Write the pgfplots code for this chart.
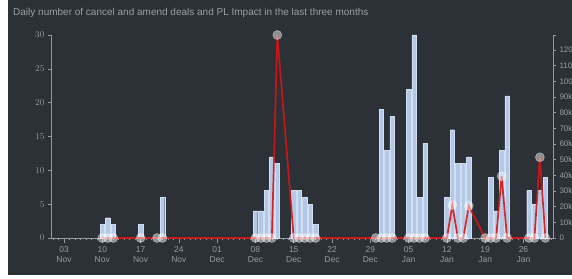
\documentclass[border=0pt]{standalone}
\usepackage{pgfplots}
\usepackage{pgfplotstable}
\pgfplotsset{compat=1.18}
\usepackage{fontspec}
\setmainfont{Liberation Sans}
\definecolor{bg}{RGB}{44,48,55}
\definecolor{axgray}{RGB}{150,153,158}
\definecolor{txtgray}{RGB}{150,155,162}
\definecolor{titlegray}{RGB}{155,160,166}
\definecolor{barblue}{RGB}{178,200,230}
\definecolor{linered}{RGB}{215,20,20}

\pgfplotstableread{
d v
7 2
8 3
9 2
14 2
17 0
18 6
35 4
36 4
37 7
38 12
39 11
42 7
43 7
44 6
45 5
46 2
57 0
58 19
59 13
60 18
63 22
64 30
65 6
66 14
70 6
71 16
72 11
73 11
74 12
77 0
78 9
79 4
80 13
81 21
85 7
86 5
87 7
88 9
}\bars

\pgfplotstableread{
d pl
7 0
8 0
9 0
14 0
17 0
18 0
35 0
36 0
37 0
38 0
39 129500
42 0
43 0
44 0
45 0
46 0
57 0
58 0
59 0
60 0
63 0
64 0
65 0
66 0
70 0
71 21000
72 0
73 0
74 20500
77 0
78 0
79 0
80 39500
81 0
85 0
86 0
87 51500
88 0
}\pl

\begin{document}
\begin{tikzpicture}[x=1pt,y=1pt]
\fill[white] (0,0) rectangle (572,278);
\fill[bg] (8,3) rectangle (572,278);
\node[anchor=west, font=\fontsize{10}{12}\selectfont, text=titlegray, inner sep=0pt] at (13,265.5) {Daily number of cancel and amend deals and PL Impact in the last three months};
\pgfplotsset{
  base/.style={
    scale only axis, width=502pt, height=203pt,
    at={(51pt,40pt)}, anchor=south west,
    xmin=-2.38, xmax=89.4,
    axis line style={axgray, line width=0.8pt},
    tick style={axgray, line width=0.6pt},
    tick align=outside,
    ticklabel style={font=\fontsize{8.5}{10}\selectfont, text=txtgray},
    clip=false,
  }
}
% x axis
\begin{axis}[base, axis x line*=bottom, axis y line=none, ymin=0, ymax=30,
  xtick={0,7,...,84},
  xticklabels={{03\\Nov},{10\\Nov},{17\\Nov},{24\\Nov},{01\\Dec},{08\\Dec},{15\\Dec},{22\\Dec},{29\\Dec},{05\\Jan},{12\\Jan},{19\\Jan},{26\\Jan}},
  xticklabel style={align=center, font=\fontsize{8.5}{10.5}\selectfont},
  minor xtick={-2,...,89},
  major tick length=5pt, minor tick length=2.5pt]
\end{axis}
% bars, left axis
\begin{axis}[base, axis y line*=left, axis x line=none, ymin=0, ymax=30,
  ytick={0,5,...,30}, major tick length=3pt, ybar, bar width=0.82,
  yticklabel style={font=\fontsize{9}{10}\selectfont}]
\addplot[fill=barblue, draw=barblue!60!white, line width=0.4pt] table[x=d,y=v]{\bars};
\end{axis}
% PL line, right axis
\begin{axis}[base, axis y line*=right, axis x line=none, ymin=0, ymax=129500,
  ytick={0,10000,...,120000},
  yticklabels={0,10k,20k,30k,40k,50k,60k,70k,80k,90k,100k,110k,120k},
  extra y ticks={129500}, extra y tick labels={},
  yticklabel style={font=\fontsize{8}{9}\selectfont},
  scaled y ticks=false, major tick length=3pt]
\addplot[linered, line width=1.7pt, opacity=0.9, mark=*, mark size=4.5pt,
  mark options={fill=white, fill opacity=0.45, draw=white, draw opacity=0.35, line width=0.8pt}]
  table[x=d,y=pl]{\pl};
\end{axis}
\pgfresetboundingbox
\useasboundingbox (0,0) rectangle (572,278);
\end{tikzpicture}
\end{document}
